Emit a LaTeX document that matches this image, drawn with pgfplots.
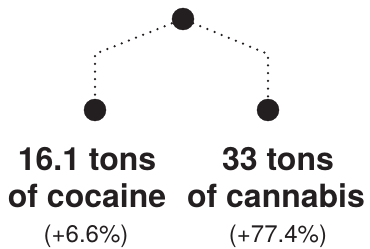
\documentclass[border=0pt]{standalone}
\usepackage{pgfplots}
\pgfplotsset{compat=1.18}
\usepackage{fontspec}
\setmainfont{TeX Gyre Heros}
\definecolor{ink}{HTML}{231F20}
\begin{document}
\begin{tikzpicture}
\begin{axis}[
  width=370bp, height=249bp, scale only axis,
  xmin=0, xmax=370, ymin=0, ymax=249, y dir=reverse,
  hide axis, clip=false,
]
\addplot[ink, line width=2.5bp, line cap=round, dash pattern=on 0bp off 7.7bp] coordinates {(95,110) (95,54) (183,19) (268,54) (268,110)};
\addplot[only marks, mark=*, mark size=11bp, ink, mark options={fill=ink, draw=ink}] coordinates {(183,19) (95,110) (268,110)};
\node[anchor=base, font=\fontsize{32bp}{32bp}\selectfont\bfseries, text=ink, inner sep=0] at (axis cs:87,170) {16.1 tons};
\node[anchor=base, font=\fontsize{32bp}{32bp}\selectfont\bfseries, text=ink, inner sep=0] at (axis cs:87,207) {of cocaine};
\node[anchor=base, font=\fontsize{24bp}{24bp}\selectfont, text=ink, inner sep=0] at (axis cs:86,242) {(+6.6\%)};
\node[anchor=base, font=\fontsize{32bp}{32bp}\selectfont\bfseries, text=ink, inner sep=0] at (axis cs:278,170) {33 tons};
\node[anchor=base, font=\fontsize{32bp}{32bp}\selectfont\bfseries, text=ink, inner sep=0] at (axis cs:276,207) {of cannabis};
\node[anchor=base, font=\fontsize{24bp}{24bp}\selectfont, text=ink, inner sep=0] at (axis cs:278,242) {(+77.4\%)};
\coordinate (bl) at (axis cs:0,249);
\coordinate (tr) at (axis cs:370,0);
\end{axis}
\pgfresetboundingbox
\useasboundingbox (bl) rectangle (tr);
\end{tikzpicture}
\end{document}
